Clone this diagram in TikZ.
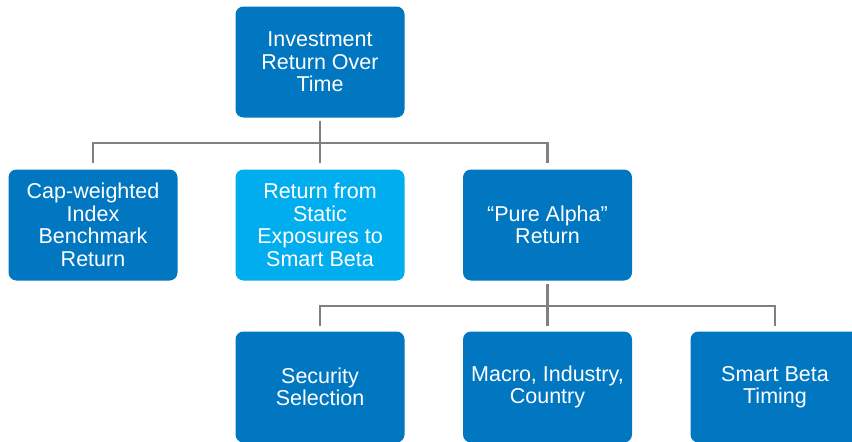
\documentclass[tikz,border=0pt]{standalone}
\usepackage{fontspec}
\setmainfont{Liberation Sans}
\definecolor{boxblue}{HTML}{0077C0}
\definecolor{skyblue}{HTML}{00AEEF}
\definecolor{linkgray}{HTML}{808080}

\tikzset{
    block/.style = {draw = none, fill = boxblue, rounded corners = 8pt,
                    minimum width = 169pt, minimum height = 111pt,
                    text = white, align = center, inner sep = 2pt,
                    font = \fontsize{21.5}{22.5}\selectfont},
    link/.style  = {draw = linkgray, line width = 2.5pt}
}

\begin{document}
\begin{tikzpicture}[x = 1pt, y = -1pt]
                \useasboundingbox (0,0) rectangle (852,442);
                % top of the tree
                \node[block] (invest) at (320,62) {Investment\\Return Over\\Time};
                % second row
                \node[block] (cap) at (93,225) {Cap-weighted\\Index\\Benchmark\\Return};
                \node[block, fill = skyblue] (static) at (320,225) {Return from\\Static\\Exposures to\\Smart Beta};
                \node[block] (alpha) at (547.5,225) {“Pure Alpha”\\Return};
                % third row
                \node[block] (security) at (320,387) {Security\\Selection};
                \node[block] (macro) at (547.5,387) {Macro, Industry,\\Country};
                \node[block] (timing) at (775,387) {Smart Beta\\Timing};
                % connectors
                \coordinate (busA) at (0,143);
                \coordinate (busB) at (0,306);
                \draw[link] ([yshift=-3pt]invest.south) -- (invest.south |- busA);
                \draw[link] ([yshift=6pt]cap.north) -- (cap.north |- busA) -- (alpha.north |- busA) -- ([yshift=6pt]alpha.north);
                \draw[link] (static.north |- busA) -- ([yshift=6pt]static.north);
                \draw[link] ([yshift=-3pt]alpha.south) -- (alpha.south |- busB);
                \draw[link] ([yshift=5pt]security.north) -- (security.north |- busB) -- (timing.north |- busB) -- ([yshift=5pt]timing.north);
                \draw[link] (macro.north |- busB) -- ([yshift=5pt]macro.north);
                %\draw[link] (cap) -- (static);
\end{tikzpicture}
\end{document}
